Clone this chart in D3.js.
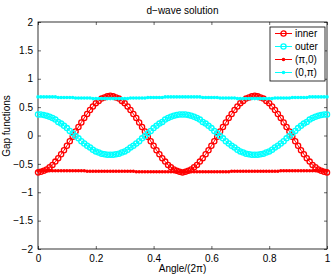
<!DOCTYPE html>
<html>
<head>
<meta charset="utf-8">
<script src="https://cdn.jsdelivr.net/npm/d3@7"></script>
<style>
  body { margin: 0; background: #fff; }
  svg { display: block; font-family: "Liberation Sans", Arial, sans-serif; }
</style>
</head>
<body>
<svg id="chart" width="332" height="276"></svg>
<script>
// sample positions: 101 angles from 0 to 1
const angles = d3.range(101).map(i => i / 100);

const inner = [
  -0.65,-0.64,-0.62,-0.60,-0.56,-0.52,-0.46,-0.40,-0.33,-0.26,-0.18,-0.10,-0.02,0.07,0.15,0.23,0.31,0.38,0.45,0.51,0.57,0.61,0.65,0.67,0.69,0.70,
  0.69,0.67,0.65,0.61,0.57,0.51,0.45,0.38,0.31,0.23,0.15,0.07,-0.02,-0.10,-0.18,-0.26,-0.33,-0.40,-0.46,-0.52,-0.56,-0.60,-0.62,-0.64,-0.65,
  -0.64,-0.62,-0.60,-0.56,-0.52,-0.46,-0.40,-0.33,-0.26,-0.18,-0.10,-0.02,0.07,0.15,0.23,0.31,0.38,0.45,0.51,0.57,0.61,0.65,0.67,0.69,0.70,
  0.69,0.67,0.65,0.61,0.57,0.51,0.45,0.38,0.31,0.23,0.15,0.07,-0.02,-0.10,-0.18,-0.26,-0.33,-0.40,-0.46,-0.52,-0.56,-0.60,-0.62,-0.64,-0.65
];

const outer = [
  0.37,0.37,0.36,0.35,0.33,0.31,0.28,0.24,0.21,0.17,0.13,0.08,0.04,-0.01,-0.05,-0.10,-0.14,-0.18,-0.21,-0.25,-0.28,-0.30,-0.32,-0.33,-0.34,-0.34,
  -0.34,-0.33,-0.32,-0.30,-0.28,-0.25,-0.21,-0.18,-0.14,-0.10,-0.05,-0.01,0.04,0.08,0.13,0.17,0.21,0.24,0.28,0.31,0.33,0.35,0.36,0.37,0.37,
  0.37,0.36,0.35,0.33,0.31,0.28,0.24,0.21,0.17,0.13,0.08,0.04,-0.01,-0.05,-0.10,-0.14,-0.18,-0.21,-0.25,-0.28,-0.30,-0.32,-0.33,-0.34,-0.34,
  -0.34,-0.33,-0.32,-0.30,-0.28,-0.25,-0.21,-0.18,-0.14,-0.10,-0.05,-0.01,0.04,0.08,0.13,0.17,0.21,0.24,0.28,0.31,0.33,0.35,0.36,0.37,0.37
];

// (pi,0) antinode
const pi0 = [
  -0.62,-0.62,-0.62,-0.62,-0.62,-0.62,-0.62,-0.62,-0.62,-0.62,-0.62,-0.62,-0.62,-0.62,-0.62,-0.62,-0.62,
  -0.63,-0.63,-0.63,-0.63,-0.63,-0.63,-0.63,-0.63,-0.63,-0.63,-0.63,-0.63,-0.63,-0.63,-0.63,-0.63,-0.63,
  -0.64,-0.64,-0.64,-0.64,-0.64,-0.64,-0.64,-0.64,-0.64,-0.64,-0.64,-0.64,-0.64,-0.64,-0.64,-0.64,-0.64,
  -0.64,-0.64,-0.64,-0.64,-0.64,-0.64,-0.64,-0.64,-0.64,-0.64,-0.64,-0.64,-0.64,-0.64,-0.64,-0.64,
  -0.63,-0.63,-0.63,-0.63,-0.63,-0.63,-0.63,-0.63,-0.63,-0.63,-0.63,-0.63,-0.63,-0.63,-0.63,-0.63,-0.63,
  -0.62,-0.62,-0.62,-0.62,-0.62,-0.62,-0.62,-0.62,-0.62,-0.62,-0.62,-0.62,-0.62,-0.62,-0.62,-0.62,-0.62
];

// (0,pi) antinode
const zeroPi = [
  0.68,0.68,0.68,0.68,0.68,0.68,0.68,0.67,0.67,0.67,0.67,0.67,0.67,0.66,0.66,0.66,0.66,0.66,0.66,0.65,0.65,0.65,0.65,0.65,0.65,0.65,
  0.65,0.65,0.65,0.65,0.65,0.65,0.66,0.66,0.66,0.66,0.66,0.66,0.67,0.67,0.67,0.67,0.67,0.67,0.68,0.68,0.68,0.68,0.68,0.68,0.68,
  0.68,0.68,0.68,0.68,0.68,0.68,0.67,0.67,0.67,0.67,0.67,0.67,0.66,0.66,0.66,0.66,0.66,0.66,0.65,0.65,0.65,0.65,0.65,0.65,0.65,
  0.65,0.65,0.65,0.65,0.65,0.65,0.66,0.66,0.66,0.66,0.66,0.66,0.67,0.67,0.67,0.67,0.67,0.67,0.68,0.68,0.68,0.68,0.68,0.68,0.68
];

const seriesNames = ['inner', 'outer', '(\u03c0,0)', '(0,\u03c0)'];
const seriesColors = ['#ff0000', '#00ffff', '#ff0000', '#00ffff'];
const seriesMarkers = ['circle', 'circle', 'dot', 'dot'];
const seriesValues = [inner, outer, pi0, zeroPi];

const xTicks = [0, 0.2, 0.4, 0.6, 0.8, 1];
const yTicks = [-2, -1.5, -1, -0.5, 0, 0.5, 1, 1.5, 2];

const margin = {top: 22, bottom: 27, left: 38, right: 5};
const svgWidth = 332, svgHeight = 276;
const w = svgWidth - margin.left - margin.right;
const h = svgHeight - margin.top - margin.bottom;

const svg = d3.select('#chart');
const fmt = v => String(v).replace('-', '\u2212');

const xScale = d3.scaleLinear().domain([0, 1]).range([0, w]);
const yScale = d3.scaleLinear().domain([-2, 2]).range([h, 0]);

const plot = svg.append('g')
  .attr('transform', 'translate(' + margin.left + ',' + margin.top + ')');

// axes: MATLAB style box with ticks pointing inwards
const TICK = 3;
function styleAxis(g, showLabels) {
  g.select('.domain').remove();
  g.selectAll('line').attr('stroke', '#000').attr('stroke-width', 0.6);
  g.selectAll('text').attr('fill', '#000').style('font-size', '10px');
  if (!showLabels) g.selectAll('text').remove();
}

plot.append('g')
  .attr('transform', 'translate(0,' + h + ')')
  .call(d3.axisBottom(xScale).tickValues(xTicks).tickFormat(fmt).tickSizeInner(-TICK).tickSizeOuter(0).tickPadding(6))
  .call(g => styleAxis(g, true));
plot.append('g')
  .call(d3.axisTop(xScale).tickValues(xTicks).tickSizeInner(-TICK).tickSizeOuter(0))
  .call(g => styleAxis(g, false));
plot.append('g')
  .call(d3.axisLeft(yScale).tickValues(yTicks).tickFormat(fmt).tickSizeInner(-TICK).tickSizeOuter(0).tickPadding(5))
  .call(g => styleAxis(g, true));
plot.append('g')
  .attr('transform', 'translate(' + w + ',0)')
  .call(d3.axisRight(yScale).tickValues(yTicks).tickSizeInner(-TICK).tickSizeOuter(0))
  .call(g => styleAxis(g, false));

plot.append('rect')
  .attr('x', 0).attr('y', 0).attr('width', w).attr('height', h)
  .attr('fill', 'none').attr('stroke', '#000').attr('stroke-width', 0.8);

// series
const line = d3.line()
  .x((d, i) => xScale(angles[i]))
  .y(d => yScale(d));

function addMarker(sel, s) {
  if (seriesMarkers[s] === 'circle') {
    sel.attr('r', 2.6).attr('fill', 'none').attr('stroke', seriesColors[s]).attr('stroke-width', 1.3);
  } else {
    sel.attr('r', 1.8).attr('fill', seriesColors[s]);
  }
}

seriesValues.forEach(function(vals, s) {
  const g = plot.append('g');
  g.append('path')
    .datum(vals)
    .attr('d', line)
    .attr('fill', 'none')
    .attr('stroke', seriesColors[s])
    .attr('stroke-width', 1);
  g.selectAll('circle')
    .data(vals)
    .enter()
    .append('circle')
    .attr('cx', (d, i) => xScale(angles[i]))
    .attr('cy', d => yScale(d))
    .call(sel => addMarker(sel, s));
});

// legend
const legend = svg.append('g').attr('transform', 'translate(270,27)');
legend.append('rect')
  .attr('width', 55).attr('height', 54)
  .attr('fill', '#fff').attr('stroke', '#000').attr('stroke-width', 0.8);
seriesNames.forEach(function(name, s) {
  const y = 6.5 + s * 13;
  legend.append('line')
    .attr('x1', 5).attr('x2', 22).attr('y1', y).attr('y2', y)
    .attr('stroke', seriesColors[s]).attr('stroke-width', 1);
  legend.append('circle')
    .attr('cx', 13.5).attr('cy', y)
    .call(sel => addMarker(sel, s));
  legend.append('text')
    .attr('x', 25).attr('y', y + 3.5)
    .style('font-size', '10px')
    .text(name);
});

// titles
svg.append('text')
  .attr('x', margin.left + w / 2).attr('y', 14)
  .attr('text-anchor', 'middle').style('font-size', '10px')
  .text('d\u2212wave solution');
svg.append('text')
  .attr('x', margin.left + w / 2).attr('y', 272)
  .attr('text-anchor', 'middle').style('font-size', '10px')
  .text('Angle/(2\u03c0)');
svg.append('text')
  .attr('transform', 'translate(10,126) rotate(-90)')
  .attr('text-anchor', 'middle').style('font-size', '10px')
  .text('Gap functions');
</script>
</body>
</html>
